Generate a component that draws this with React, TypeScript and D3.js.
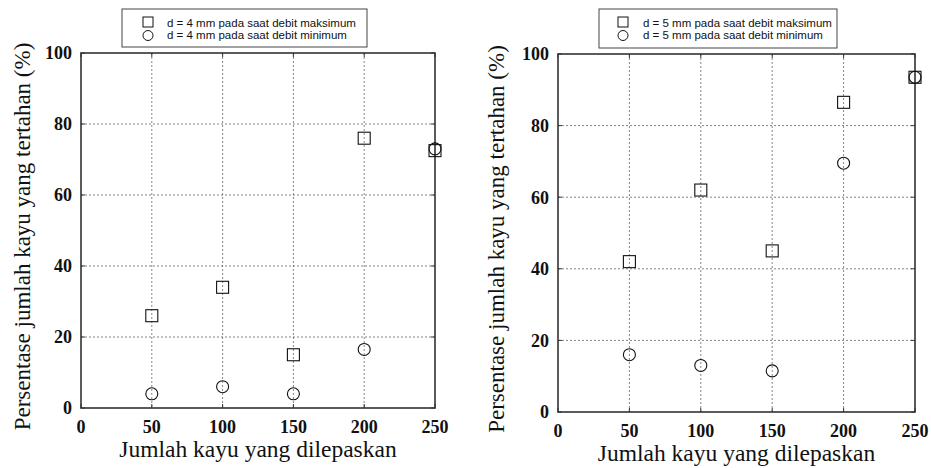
import React from "react";
import * as d3 from "d3";

const xTicks = [0, 50, 100, 150, 200, 250];
const yTicks = [0, 20, 40, 60, 80, 100];
const xCats = [50, 100, 150, 200, 250];

const leftMax = [26, 34, 15, 76, 72.5];
const leftMin = [4, 6, 4, 16.5, 73];
const rightMax = [42, 62, 45, 86.5, 93.5];
const rightMin = [16, 13, 11.5, 69.5, 93.5];

const leftLegend = ["d = 4 mm pada saat debit maksimum", "d = 4 mm pada saat debit minimum"];
const rightLegend = ["d = 5 mm pada saat debit maksimum", "d = 5 mm pada saat debit minimum"];

const xTitle = "Jumlah kayu yang dilepaskan";
const yTitle = "Persentase jumlah kayu yang tertahan (%)";

type PanelProps = {
  x0: number; x1: number; y0: number; y1: number;
  maxVals: number[]; minVals: number[]; legend: string[];
  legBox: [number, number, number, number];
  legMarkX: number; legTextX: number; yTitleX: number;
};

function Panel(p: PanelProps) {
  const xs = d3.scaleLinear().domain([0, 250]).range([p.x0, p.x1]);
  const ys = d3.scaleLinear().domain([0, 100]).range([p.y1, p.y0]);
  const serif = "Liberation Serif";
  const sans = "Liberation Sans";
  const frame = "#333";
  return (
    <g>
      {xTicks.slice(1, -1).map((t) => (
        <line key={"gx" + t} x1={xs(t)} x2={xs(t)} y1={p.y0} y2={p.y1} stroke="#666" strokeWidth={0.8} strokeDasharray="2,2" />
      ))}
      {yTicks.slice(1, -1).map((t) => (
        <line key={"gy" + t} x1={p.x0} x2={p.x1} y1={ys(t)} y2={ys(t)} stroke="#666" strokeWidth={0.8} strokeDasharray="2,2" />
      ))}
      {xTicks.map((t) => (
        <g key={"tx" + t}>
          <line x1={xs(t)} x2={xs(t)} y1={p.y1} y2={p.y1 - 4} stroke={frame} strokeWidth={1} />
          <line x1={xs(t)} x2={xs(t)} y1={p.y0} y2={p.y0 + 4} stroke={frame} strokeWidth={1} />
          <text x={xs(t)} y={p.y1 + 25} textAnchor="middle" fontFamily={serif} fontWeight={700} fontSize={18} fill="#111">{t}</text>
        </g>
      ))}
      {yTicks.map((t) => (
        <g key={"ty" + t}>
          <line x1={p.x0} x2={p.x0 + 4} y1={ys(t)} y2={ys(t)} stroke={frame} strokeWidth={1} />
          <line x1={p.x1} x2={p.x1 - 4} y1={ys(t)} y2={ys(t)} stroke={frame} strokeWidth={1} />
          <text x={p.x0 - 9} y={ys(t)} dy="0.35em" textAnchor="end" fontFamily={serif} fontWeight={700} fontSize={18} fill="#111">{t}</text>
        </g>
      ))}
      <rect x={p.x0} y={p.y0} width={p.x1 - p.x0} height={p.y1 - p.y0} fill="none" stroke={frame} strokeWidth={1.6} />
      {p.maxVals.map((v, i) => (
        <rect key={"sq" + i} x={xs(xCats[i]) - 6} y={ys(v) - 6} width={12} height={12} fill="none" stroke="#111" strokeWidth={1.1} />
      ))}
      {p.minVals.map((v, i) => (
        <circle key={"ci" + i} cx={xs(xCats[i])} cy={ys(v)} r={6} fill="none" stroke="#111" strokeWidth={1.1} />
      ))}
      <rect x={p.legBox[0]} y={p.legBox[1]} width={p.legBox[2] - p.legBox[0]} height={p.legBox[3] - p.legBox[1]} fill="white" stroke="#444" strokeWidth={1} />
      <rect x={p.legMarkX - 5} y={17} width={10} height={10} fill="none" stroke="#111" strokeWidth={1} />
      <circle cx={p.legMarkX} cy={35.5} r={5} fill="none" stroke="#111" strokeWidth={1} />
      <text x={p.legTextX} y={22.5} dy="0.35em" fontFamily={sans} fontSize={11.5} fill="#111">{p.legend[0]}</text>
      <text x={p.legTextX} y={35} dy="0.35em" fontFamily={sans} fontSize={11.5} fill="#111">{p.legend[1]}</text>
      <text x={(p.x0 + p.x1) / 2} y={p.y1 + 49} textAnchor="middle" fontFamily={serif} fontSize={23.5} fill="#111">{xTitle}</text>
      <text transform={`translate(${p.yTitleX},${(p.y0 + p.y1) / 2 + 6}) rotate(-90)`} textAnchor="middle" dy="0.35em" fontFamily={serif} fontSize={23} fill="#111">{yTitle}</text>
    </g>
  );
}

export default function App() {
  return (
    <svg width={931} height={468} style={{ position: "absolute", left: 0, top: 0, background: "white" }}>
      <rect width={931} height={468} fill="white" />
      <Panel x0={81} x1={435} y0={53} y1={408} maxVals={leftMax} minVals={leftMin} legend={leftLegend}
        legBox={[122, 9, 367, 47]} legMarkX={148} legTextX={167} yTitleX={22} />
      <Panel x0={558} x1={915} y0={54} y1={412} maxVals={rightMax} minVals={rightMin} legend={rightLegend}
        legBox={[599, 9, 837, 48]} legMarkX={623} legTextX={643} yTitleX={496} />
    </svg>
  );
}
